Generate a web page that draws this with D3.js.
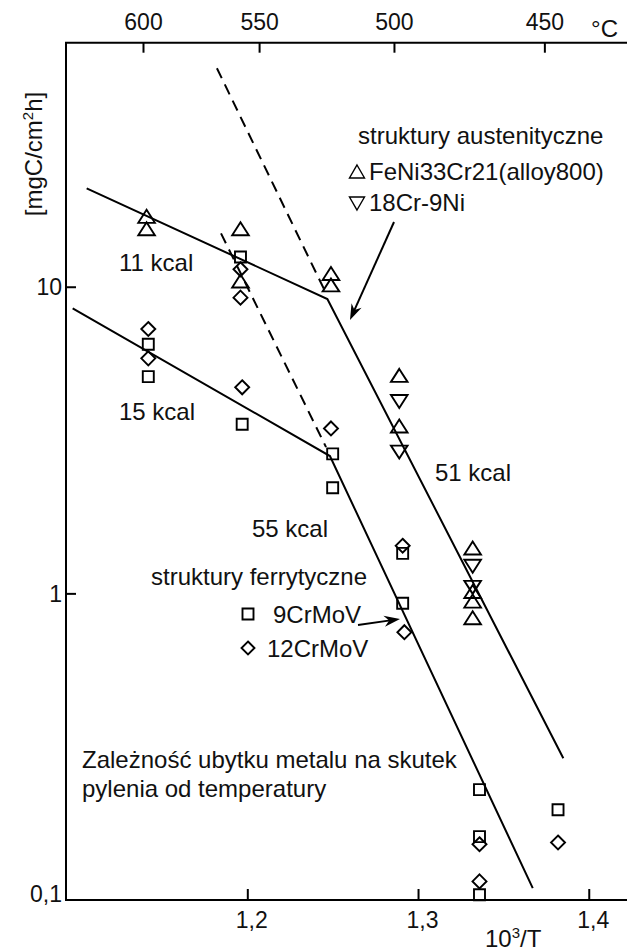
<!DOCTYPE html>
<html>
<head>
<meta charset="utf-8">
<script src="https://cdn.jsdelivr.net/npm/d3@7"></script>
<style>
  html, body { margin: 0; padding: 0; background: #fff; }
  svg { display: block; }
  text { font-family: "Liberation Sans", Arial, sans-serif; fill: #111; }
</style>
</head>
<body>
<svg id="chart" width="627" height="951"></svg>
<script>
// Metal dusting rate vs. reciprocal temperature (Arrhenius plot)

// x: 10^3/T, y: mass loss rate [mgC/cm2h]
const xTicks = [1.2, 1.3, 1.4];
const xTickLabels = ["1,2", "1,3", "1,4"];
const yTicks = [0.1, 1, 10];
const yTickLabels = ["0,1", "1", "10"];
const topTickLabels = ["600", "550", "500", "450"];
const topTickPos = [1.1389, 1.2069, 1.2859, 1.3740]; // 10^3/T positions of the °C ticks

// FeNi33Cr21 (alloy800) – triangles up
const alloy800X = [1.141, 1.141, 1.196, 1.196, 1.249, 1.249, 1.289, 1.289, 1.332, 1.332, 1.332, 1.332];
const alloy800Y = [16.9, 15.4, 15.4, 10.4, 11.0, 10.1, 5.12, 3.50, 1.40, 1.01, 0.94, 0.83];
// 18Cr-9Ni – triangles down
const cr18X = [1.289, 1.289, 1.332, 1.332];
const cr18Y = [4.24, 2.90, 1.23, 1.05];
// 9CrMoV – squares
const crmov9X = [1.142, 1.142, 1.196, 1.197, 1.250, 1.250, 1.291, 1.291, 1.336, 1.336, 1.336, 1.382];
const crmov9Y = [6.49, 5.09, 12.5, 3.56, 2.85, 2.21, 1.35, 0.928, 0.229, 0.161, 0.104, 0.197];
// 12CrMoV – diamonds
const crmov12X = [1.142, 1.142, 1.196, 1.196, 1.197, 1.249, 1.291, 1.292, 1.336, 1.336, 1.382];
const crmov12Y = [7.28, 5.84, 11.4, 9.21, 4.70, 3.45, 1.43, 0.747, 0.152, 0.115, 0.154];

// fitted lines (x, y pairs)
const austLineX = [1.1059, 1.2469, 1.3851];
const austLineY = [20.94, 9.12, 0.290];
const ferrLineX = [1.0977, 1.2484, 1.3672];
const ferrLineY = [8.50, 2.805, 0.1093];
const austDashX = [1.1822, 1.2461];
const austDashY = [51.6, 9.52];
const ferrDashX = [1.1846, 1.2461];
const ferrDashY = [14.93, 3.0];

const svg = d3.select("#chart");
const mLeft = 66, mTop = 42.7, mBottom = 900, mRight = 627;
const x = d3.scaleLinear().domain([1.0938, 1.4224]).range([mLeft, mRight]);
const y = d3.scaleLog().domain([0.1, 62.5]).range([mBottom, mTop]);
const FS = 23;   // tick labels
const AFS = 24;  // annotations and titles
const FONT = "Liberation Sans, Arial, sans-serif";

// axes: left, top, bottom
svg.append("path").attr("d", `M${mRight},${mTop}H${mLeft}V${mBottom}H${mRight}`)
  .attr("stroke", "#000").attr("stroke-width", 2).attr("fill", "none");

// bottom ticks
const bx = d3.axisBottom(x).tickValues(xTicks).tickSize(-11).tickFormat((d, i) => xTickLabels[i]);
const gb = svg.append("g").attr("transform", `translate(0,${mBottom})`).call(bx);
gb.select(".domain").remove();
gb.selectAll("line").attr("stroke", "#000").attr("stroke-width", 2);
gb.selectAll("text").attr("font-size", FS).attr("dx", 4).attr("dy", 0).attr("y", 27.5)
  .style("font-family", FONT).attr("fill", "#111");

// top ticks (°C)
const tx = d3.axisTop(x).tickValues(topTickPos).tickSize(-10).tickFormat((d, i) => topTickLabels[i]);
const gt = svg.append("g").attr("transform", `translate(0,${mTop})`).call(tx);
gt.select(".domain").remove();
gt.selectAll("line").attr("stroke", "#000").attr("stroke-width", 2);
gt.selectAll("text").attr("font-size", FS).attr("y", -12.7).attr("dy", 0)
  .style("font-family", FONT).attr("fill", "#111");

// left ticks
const ly = d3.axisLeft(y).tickValues(yTicks).tickSize(-10).tickFormat((d, i) => yTickLabels[i]);
const gl = svg.append("g").attr("transform", `translate(${mLeft},0)`).call(ly);
gl.select(".domain").remove();
gl.selectAll("line").attr("stroke", "#000").attr("stroke-width", 2);
gl.selectAll("text").attr("font-size", FS).attr("x", -4).attr("dy", 0)
  .attr("y", (d) => d === 0.1 ? 1 : 8)
  .style("font-family", FONT).attr("fill", "#111");
gl.selectAll(".tick").filter(d => d === 0.1).select("line").remove();

// axis titles
svg.append("text").attr("x", 618).attr("y", 37).attr("text-anchor", "end").attr("font-size", AFS).text("°C");
const xt = svg.append("text").attr("x", 485).attr("y", 947).attr("font-size", AFS);
xt.append("tspan").text("10");
xt.append("tspan").attr("dy", -9).attr("font-size", 15).text("3");
xt.append("tspan").attr("dy", 9).text("/T");
const yt = svg.append("text").attr("transform", "translate(42,154) rotate(-90)").attr("text-anchor", "middle").attr("font-size", AFS);
yt.append("tspan").text("[mgC/cm");
yt.append("tspan").attr("dy", -9).attr("font-size", 15).text("2");
yt.append("tspan").attr("dy", 9).text("h]");

// lines
const line = d3.line().x(d => x(d[0])).y(d => y(d[1]));
const lg = svg.append("g").attr("fill", "none").attr("stroke", "#000").attr("stroke-width", 2);
lg.append("path").attr("d", line(d3.zip(austLineX, austLineY)));
lg.append("path").attr("d", line(d3.zip(ferrLineX, ferrLineY)));
lg.append("path").attr("d", line(d3.zip(austDashX, austDashY))).attr("stroke-dasharray", "11,7");
lg.append("path").attr("d", line(d3.zip(ferrDashX, ferrDashY))).attr("stroke-dasharray", "11,7");

// marker shapes
const shapes = {
  up: "M0,-7L8.3,6L-8.3,6Z",
  down: "M0,7L8.3,-6L-8.3,-6Z",
  square: "M-5.5,-5.5H5.5V5.5H-5.5Z",
  diamond: "M0,-7L7,0L0,7L-7,0Z"
};
function markers(xs, ys, shape) {
  svg.append("g").selectAll("path").data(d3.zip(xs, ys)).join("path")
    .attr("transform", d => `translate(${x(d[0])},${y(d[1])})`)
    .attr("d", shapes[shape]).attr("fill", "none").attr("stroke", "#000").attr("stroke-width", 1.9);
}
markers(alloy800X, alloy800Y, "up");
markers(cr18X, cr18Y, "down");
markers(crmov9X, crmov9Y, "square");
markers(crmov12X, crmov12Y, "diamond");

// annotations
const ann = svg.append("g").attr("font-size", AFS);
ann.append("text").attr("x", 119).attr("y", 271).text("11 kcal");
ann.append("text").attr("x", 119).attr("y", 420).text("15 kcal");
ann.append("text").attr("x", 252).attr("y", 537).text("55 kcal");
ann.append("text").attr("x", 435).attr("y", 481).text("51 kcal");
ann.append("text").attr("x", 358).attr("y", 144).text("struktury austenityczne");
ann.append("text").attr("x", 369).attr("y", 180).text("FeNi33Cr21(alloy800)");
ann.append("text").attr("x", 369).attr("y", 211).text("18Cr-9Ni");
ann.append("text").attr("x", 151).attr("y", 585).text("struktury ferrytyczne");
ann.append("text").attr("x", 273).attr("y", 623).text("9CrMoV");
ann.append("text").attr("x", 267).attr("y", 657).text("12CrMoV");
ann.append("text").attr("x", 82).attr("y", 768).text("Zależność ubytku metalu na skutek");
ann.append("text").attr("x", 82).attr("y", 797).text("pylenia od temperatury");

// legend symbols
const leg = svg.append("g").attr("fill", "none").attr("stroke", "#000");
leg.append("path").attr("transform", "translate(357,172)").attr("d", "M0,-7L7.5,6L-7.5,6Z").attr("stroke-width", 1.4);
leg.append("path").attr("transform", "translate(357,204)").attr("d", "M0,6L7.5,-7L-7.5,-7Z").attr("stroke-width", 1.4);
leg.append("path").attr("transform", "translate(248,614)").attr("d", shapes.square).attr("stroke-width", 1.9);
leg.append("path").attr("transform", "translate(248,648)").attr("d", "M0,-6.5L6.5,0L0,6.5L-6.5,0Z").attr("stroke-width", 1.9);

// arrows
function arrow(x1, y1, x2, y2) {
  const a = Math.atan2(y2 - y1, x2 - x1);
  svg.append("line").attr("x1", x1).attr("y1", y1)
    .attr("x2", x2 - 8 * Math.cos(a)).attr("y2", y2 - 8 * Math.sin(a))
    .attr("stroke", "#000").attr("stroke-width", 2);
  const L = 16, W = 5.5, N = 11;
  const p = (dx, dy) => [x2 + dx * Math.cos(a) - dy * Math.sin(a), y2 + dx * Math.sin(a) + dy * Math.cos(a)];
  const pts = [p(0, 0), p(-L, W), p(-N, 0), p(-L, -W)];
  svg.append("path").attr("d", "M" + pts.map(q => q.join(",")).join("L") + "Z").attr("fill", "#000");
}
arrow(394, 222, 350, 320);
arrow(358, 625, 400, 619);
</script>
</body>
</html>
